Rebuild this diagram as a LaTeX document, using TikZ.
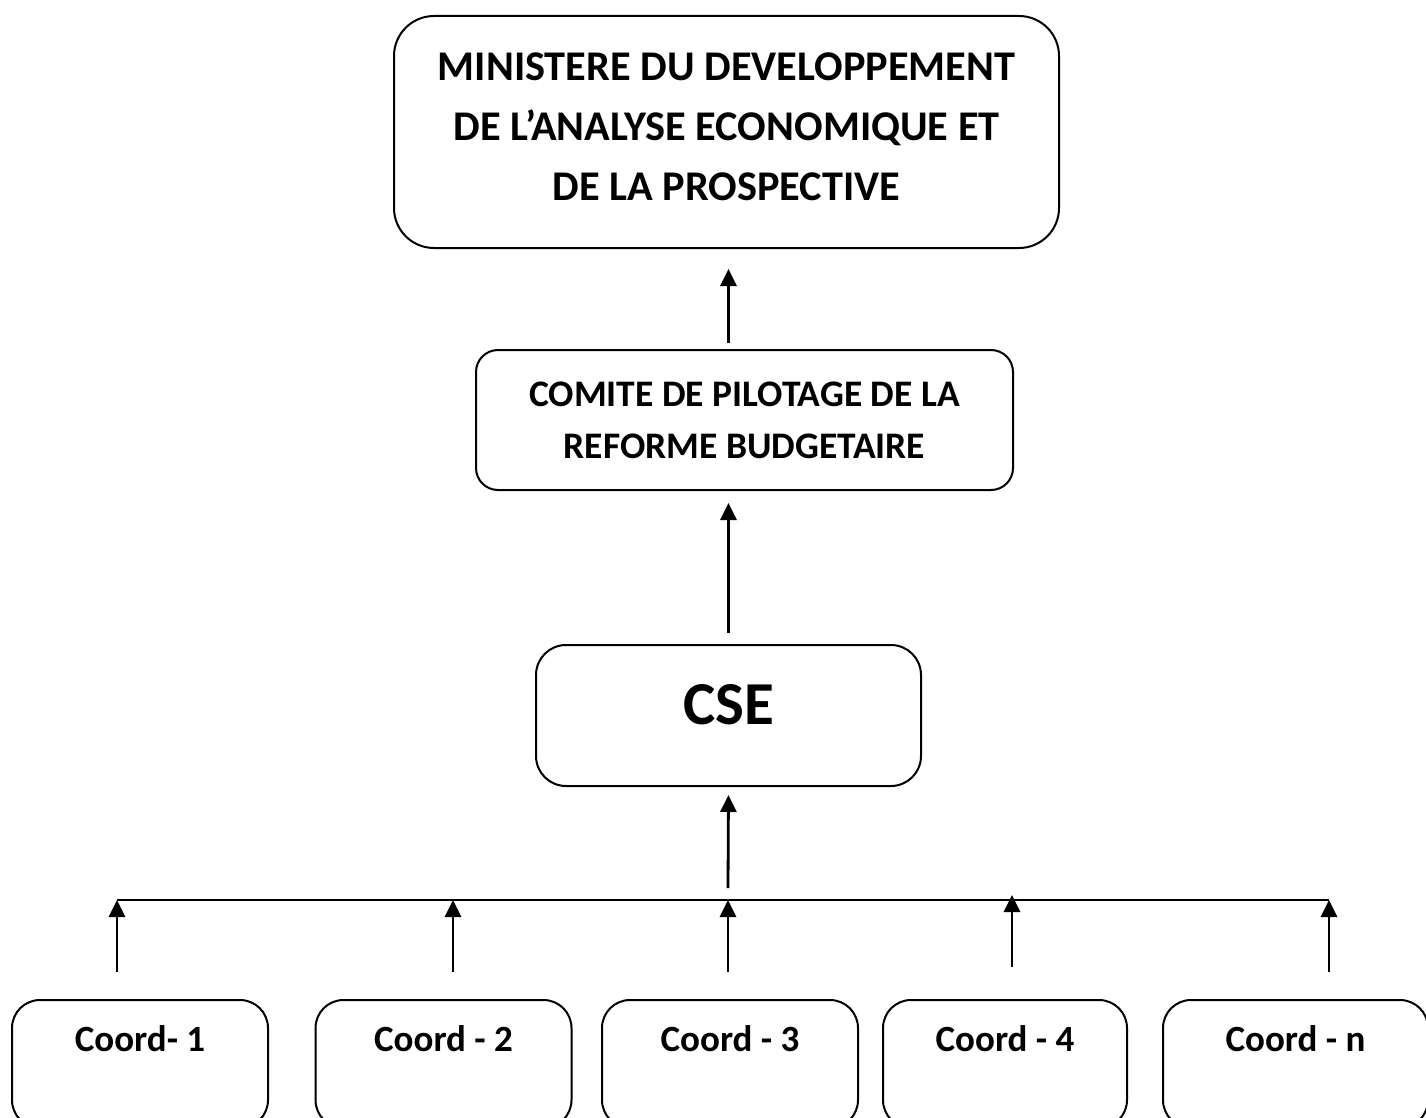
\documentclass[tikz,border=0pt]{standalone}
\usepackage{fontspec}
\setmainfont{Carlito}
\usetikzlibrary{arrows.meta}
\usetikzlibrary{positioning}

\begin{document}
\begin{tikzpicture}[x=1pt,y=1pt,>={Triangle[length=17pt,width=16pt]},semithick]
  \tikzstyle{box}=[draw, line width=2pt, align=center, inner sep=0pt]
  \tikzstyle{coordbox}=[box, rounded corners=28pt, minimum width=256pt, minimum height=128pt, text depth=50pt, font=\fontsize{37}{44}\selectfont\bfseries]
  \tikzstyle{up}=[->, line width=2.8pt]

  \useasboundingbox (0,0) rectangle (1426,-1118);
  \clip (0,0) rectangle (1426,-1118);

  \node[box, rounded corners=40pt, minimum width=665pt, minimum height=232pt, text depth=10pt,
        font=\fontsize{42.3}{60}\selectfont\bfseries] (ministere) at (726.5,-132)
        {MINISTERE DU DEVELOPPEMENT\\DE L’ANALYSE ECONOMIQUE ET\\DE LA PROSPECTIVE};
  \node[box, rounded corners=22pt, minimum width=537pt, minimum height=140pt,
        font=\fontsize{37.5}{52}\selectfont\bfseries] (comite) [below=100pt of ministere, xshift=18pt]
        {COMITE DE PILOTAGE DE LA\\REFORME BUDGETAIRE};
  \node[box, rounded corners=30pt, minimum width=385pt, minimum height=141pt, text depth=22pt,
        font=\fontsize{61}{72}\selectfont\bfseries] (cse) [below=153pt of comite, xshift=-16pt] {CSE};

  \node[coordbox] (coord1) at (140,-1064) {Coord- 1};
  \node[coordbox] (coord2) at (443.5,-1064) {Coord - 2};
  \node[coordbox] (coord3) at (730,-1064) {Coord - 3};
  \node[coordbox, minimum width=244pt] (coord4) at (1005,-1064) {Coord - 4};
  \node[coordbox, minimum width=265pt] (coordn) at (1295.5,-1064) {Coord - n};

  % bus line
  \coordinate (b1) at (117,-900);
  \coordinate (b2) at (453,-900);
  \coordinate (b3) at (728,-900);
  \coordinate (b4) at (1012,-895);
  \coordinate (b5) at (1329,-900);
  \draw[line width=2pt] (b1) -- (b5);

  \draw[up, shorten <=6pt, shorten >=20pt] (comite.north -| cse) -- (ministere.south -| cse);
  \draw[up, shorten <=11pt, shorten >=12pt] (cse.north) -- (comite.south -| cse);
  \draw[up, shorten >=8pt] ([yshift=12pt]b3) -- (cse.south);

  \draw[up, shorten <=27pt] (coord1.north -| b1) -- (b1);
  \draw[up, shorten <=27pt] (coord2.north -| b2) -- (b2);
  \draw[up, shorten <=27pt] (coord3.north -| b3) -- (b3);
  \draw[up, shorten <=32pt] (coord4.north -| b4) -- (b4);
  \draw[up, shorten <=27pt] (coordn.north -| b5) -- (b5);
\end{tikzpicture}
\end{document}
